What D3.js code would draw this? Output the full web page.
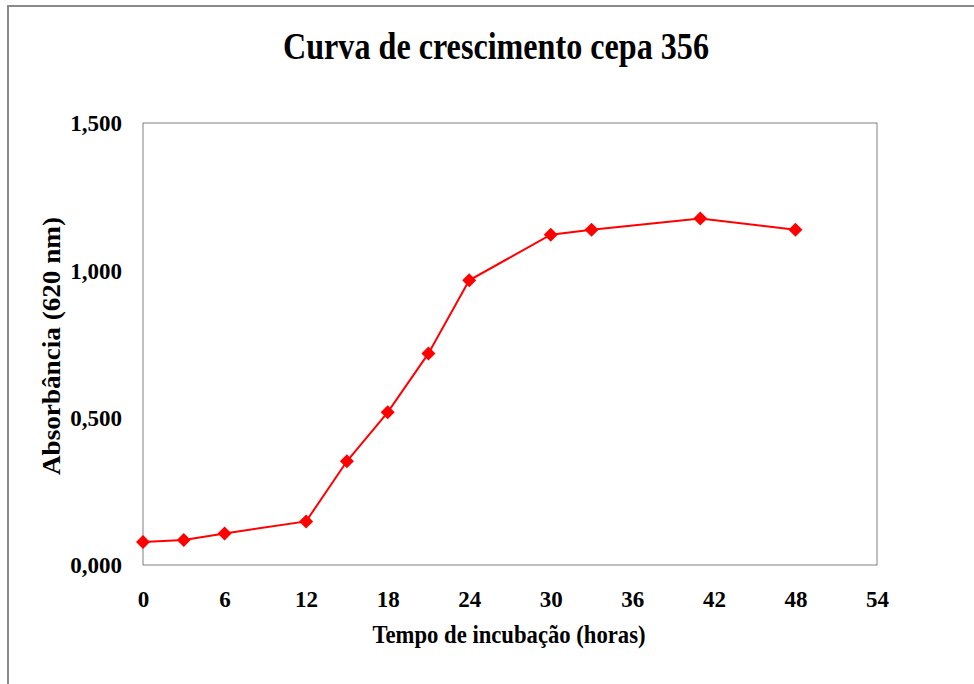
<!DOCTYPE html>
<html lang="pt">
<head>
<meta charset="UTF-8">
<title>Curva de crescimento cepa 356</title>
<script src="https://cdn.jsdelivr.net/npm/d3@7.8.5/dist/d3.min.js"></script>
<style>
  body { margin: 0; background: #fff; }
  svg { display: block; font-family: "Liberation Serif", "Times New Roman", serif; font-weight: bold; }
</style>
</head>
<body>
<div id="chart"></div>
<script>
// data
const hours = [0, 3, 6, 12, 15, 18, 21, 24, 30, 33, 41, 48];
const absorbance = [0.078, 0.085, 0.107, 0.148, 0.352, 0.518, 0.718, 0.966, 1.121, 1.138, 1.176, 1.138];
const xTicks = [0, 6, 12, 18, 24, 30, 36, 42, 48, 54];
const yTicks = [0, 0.5, 1.0, 1.5];

const W = 974, H = 684;
const plot = {left: 143, right: 877, top: 123, bottom: 565};

const svg = d3.select("#chart").append("svg")
  .attr("width", W).attr("height", H);

// outer chart frame (only top and left edges show)
svg.append("path")
  .attr("d", `M8,${H} L8,6 L${W},6`)
  .attr("fill", "none")
  .attr("stroke", "#8a8a8a")
  .attr("stroke-width", 2);

const x = d3.scaleLinear().domain([0, 54]).range([plot.left, plot.right]);
const y = d3.scaleLinear().domain([0, 1.5]).range([plot.bottom, plot.top]);

// plot area border
svg.append("rect")
  .attr("x", plot.left).attr("y", plot.top)
  .attr("width", plot.right - plot.left)
  .attr("height", plot.bottom - plot.top)
  .attr("fill", "none")
  .attr("stroke", "#808080")
  .attr("stroke-width", 1);

// axes (labels only, no tick marks)
const fmtY = d => d3.format(".3f")(d).replace(".", ",");

const yAxis = svg.append("g")
  .attr("transform", `translate(${plot.left},0)`)
  .call(d3.axisLeft(y).tickValues(yTicks).tickFormat(fmtY).tickSize(0).tickPadding(21));
yAxis.select(".domain").remove();
yAxis.selectAll("text")
  .attr("dy", "0.34em")
  .style("font-family", "Liberation Serif")
  .style("font-weight", "bold")
  .style("font-size", "23px")
  .attr("fill", "#000");

const xAxis = svg.append("g")
  .attr("transform", `translate(0,${plot.bottom})`)
  .call(d3.axisBottom(x).tickValues(xTicks).tickFormat(d3.format("d")).tickSize(0).tickPadding(26));
xAxis.select(".domain").remove();
xAxis.selectAll("text")
  .attr("dy", "0.71em")
  .style("font-family", "Liberation Serif")
  .style("font-weight", "bold")
  .style("font-size", "23px")
  .attr("fill", "#000");

// the series
const points = hours.map((h, i) => ({h: h, v: absorbance[i]}));

svg.append("path")
  .datum(points)
  .attr("fill", "none")
  .attr("stroke", "#ff0000")
  .attr("stroke-width", 2)
  .attr("d", d3.line().x(d => x(d.h)).y(d => y(d.v)));

svg.selectAll(".marker")
  .data(points)
  .enter()
  .append("path")
  .attr("class", "marker")
  .attr("d", d3.symbol(d3.symbolSquare, 98))
  .attr("transform", d => `translate(${x(d.h)},${y(d.v)}) rotate(45)`)
  .attr("fill", "#ff0000");

// titles
svg.append("text")
  .attr("x", 496).attr("y", 59)
  .attr("text-anchor", "middle")
  .attr("textLength", 426)
  .attr("lengthAdjust", "spacingAndGlyphs")
  .style("font-size", "37px")
  .text("Curva de crescimento cepa 356");

svg.append("text")
  .attr("x", 509).attr("y", 643)
  .attr("text-anchor", "middle")
  .attr("textLength", 273)
  .attr("lengthAdjust", "spacingAndGlyphs")
  .style("font-size", "25px")
  .text("Tempo de incubação (horas)");

svg.append("text")
  .attr("transform", "translate(60,346) rotate(-90)")
  .attr("text-anchor", "middle")
  .attr("textLength", 258)
  .attr("lengthAdjust", "spacingAndGlyphs")
  .style("font-size", "25px")
  .text("Absorbância (620 nm)");
</script>
</body>
</html>
